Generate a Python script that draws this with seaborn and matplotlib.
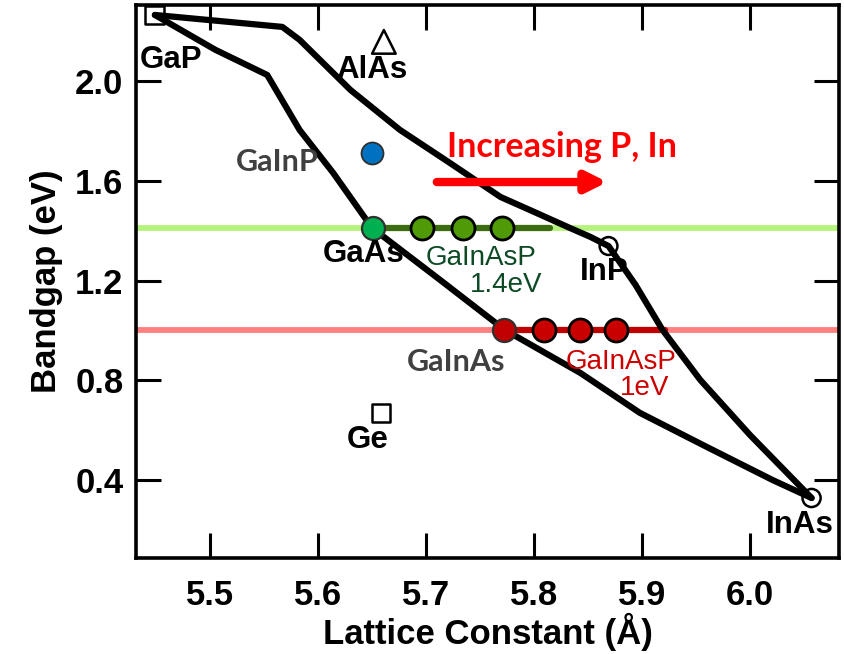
import matplotlib
matplotlib.use("Agg")
import matplotlib.pyplot as plt
import seaborn as sns
import pandas as pd

# ---------------- data ----------------
upper_x = [5.449, 5.567, 5.583, 5.630, 5.676, 5.722, 5.769, 5.796, 5.833, 5.852, 5.869,
           5.894, 5.919, 5.954, 6.000, 6.057]
upper_y = [2.267, 2.219, 2.167, 1.966, 1.805, 1.673, 1.536, 1.484, 1.412, 1.376, 1.339,
           1.183, 1.002, 0.801, 0.580, 0.327]
lower_x = [5.449, 5.505, 5.553, 5.583, 5.614, 5.650, 5.713, 5.773, 5.843, 5.898, 5.960,
           6.021, 6.057]
lower_y = [2.267, 2.127, 2.026, 1.805, 1.633, 1.412, 1.203, 1.002, 0.829, 0.669, 0.532,
           0.399, 0.327]

binary_names = ["GaP", "AlAs", "InP", "Ge", "InAs"]
binary_x = [5.449, 5.661, 5.869, 5.658, 6.057]
binary_y = [2.267, 2.159, 1.339, 0.669, 0.327]
binary_marker = ["s", "^", "o", "s", "o"]

gainp_x, gainp_y = [5.650], [1.713]
gaas_x, gaas_y = [5.651], [1.41]
green_x = [5.696, 5.734, 5.770]
green_y = [1.41, 1.41, 1.41]
red_x = [5.772, 5.809, 5.843, 5.876]
red_y = [1.0, 1.0, 1.0, 1.0]
green_line_x = [5.651, 5.815]
red_line_x = [5.772, 5.921]
level_14, level_10 = 1.41, 1.0

xticks = [5.5, 5.6, 5.7, 5.8, 5.9, 6.0]
yticks = [0.4, 0.8, 1.2, 1.6, 2.0]

# ---------------- plot ----------------
sns.set_style("ticks")
plt.rcParams["font.family"] = ["Liberation Sans", "DejaVu Sans"]

fig = plt.figure(figsize=(8.45, 6.54), dpi=100)
ax = fig.add_axes([136 / 845, 96 / 654, 703 / 845, 553 / 654])
ax.set_xlim(5.4315, 6.0824)
ax.set_ylim(0.086, 2.307)

# horizontal target lines
ax.axhline(level_14, color="#b5f47c", lw=4.2, zorder=1)
ax.axhline(level_10, color="#ff8080", lw=4.2, zorder=1)
sns.lineplot(x=green_line_x, y=[level_14] * 2, ax=ax, color="#3b6e0e", lw=4.5, zorder=2)
sns.lineplot(x=red_line_x, y=[level_10] * 2, ax=ax, color="#c00000", lw=4.5, zorder=2)

# boundary curves
up = pd.DataFrame({"x": upper_x, "y": upper_y})
lo = pd.DataFrame({"x": lower_x, "y": lower_y})
sns.lineplot(data=up, x="x", y="y", sort=False, estimator=None, ax=ax,
             color="black", lw=4.5, zorder=3)
sns.lineplot(data=lo, x="x", y="y", sort=False, estimator=None, ax=ax,
             color="black", lw=4.5, zorder=3)

# binary open markers
sizes = {"GaP": 185, "AlAs": 290, "InP": 165, "Ge": 170, "InAs": 170}
for n, x, y, m in zip(binary_names, binary_x, binary_y, binary_marker):
    ax.scatter([x], [y], marker=m, s=sizes[n], facecolors="none",
               edgecolors="black", linewidths=1.8, zorder=5)

# filled points
sns.scatterplot(x=gainp_x, y=gainp_y, ax=ax, color="#0070c0", s=250,
                edgecolor="#303030", linewidth=1.3, zorder=6)
sns.scatterplot(x=gaas_x, y=gaas_y, ax=ax, color="#00b050", s=275,
                edgecolor="#303030", linewidth=1.6, zorder=6)
sns.scatterplot(x=green_x, y=green_y, ax=ax, color="#4f9a06", s=275,
                edgecolor="black", linewidth=2.0, zorder=6)
sns.scatterplot(x=red_x[:1], y=red_y[:1], ax=ax, color="#c00000", s=275,
                edgecolor="#303030", linewidth=1.6, zorder=6)
sns.scatterplot(x=red_x[1:], y=red_y[1:], ax=ax, color="#c80000", s=275,
                edgecolor="black", linewidth=2.0, zorder=6)

# arrow
ax.annotate("", xy=(5.868, 1.596), xytext=(5.710, 1.596),
            arrowprops=dict(arrowstyle="-|>,head_length=1.2,head_width=0.6",
                            color="#ff0000", lw=6, shrinkA=0, shrinkB=0), zorder=7)

# labels
lab = dict(fontsize=22.5, fontweight="bold", ha="center", va="center", zorder=8)
ax.text(5.464, 2.086, "GaP", color="black", **lab)
ax.text(5.650, 2.046, "AlAs", color="black", **lab)
ax.text(5.642, 1.307, "GaAs", color="black", **lab)
ax.text(5.865, 1.234, "InP", color="black", **lab)
ax.text(5.646, 0.560, "Ge", color="black", **lab)
ax.text(6.046, 0.219, "InAs", color="black", **lab)
glab = dict(fontsize=22, fontweight="bold", ha="center", va="center", zorder=8,
            family=["Lato", "DejaVu Sans"])
ax.text(5.562, 1.677, "GaInP", color="#404040", **glab)
ax.text(5.728, 0.874, "GaInAs", color="#404040", **glab)
ax.text(5.826, 1.737, "Increasing P, In", color="#ff0000", fontsize=24.5,
        fontweight="bold", ha="center", va="center", zorder=8,
        family=["Lato", "DejaVu Sans"])
ax.text(5.751, 1.291, "GaInAsP", color="#0d4a25", fontsize=20, ha="center", va="center")
ax.text(5.774, 1.183, "1.4eV", color="#0d4a25", fontsize=20, ha="center", va="center")
ax.text(5.881, 0.873, "GaInAsP", color="#cc0000", fontsize=20, ha="center", va="center")
ax.text(5.902, 0.769, "1eV", color="#cc0000", fontsize=20, ha="center", va="center")

# axes styling
ax.set_xticks(xticks)
ax.set_yticks(yticks)
ax.set_xticklabels([f"{v:.1f}" for v in xticks])
ax.set_yticklabels([f"{v:.1f}" for v in yticks])
ax.tick_params(direction="in", length=18, width=2.2, top=True, right=True,
               labelsize=25, colors="black")
ax.tick_params(axis="x", pad=15)
ax.tick_params(axis="y", pad=9)
for lbl in ax.get_xticklabels() + ax.get_yticklabels():
    lbl.set_fontweight("bold")
for s in ax.spines.values():
    s.set_linewidth(2.6)
    s.set_color("black")
    s.set_visible(True)
ax.set_xlabel("Lattice Constant (Å)", fontsize=25, fontweight="bold", labelpad=1,
              color="black")
ax.set_ylabel("Bandgap (eV)", fontsize=25, fontweight="bold", labelpad=9,
              color="black")
if ax.get_legend():
    ax.get_legend().remove()

fig.savefig("out.png", dpi=100)
